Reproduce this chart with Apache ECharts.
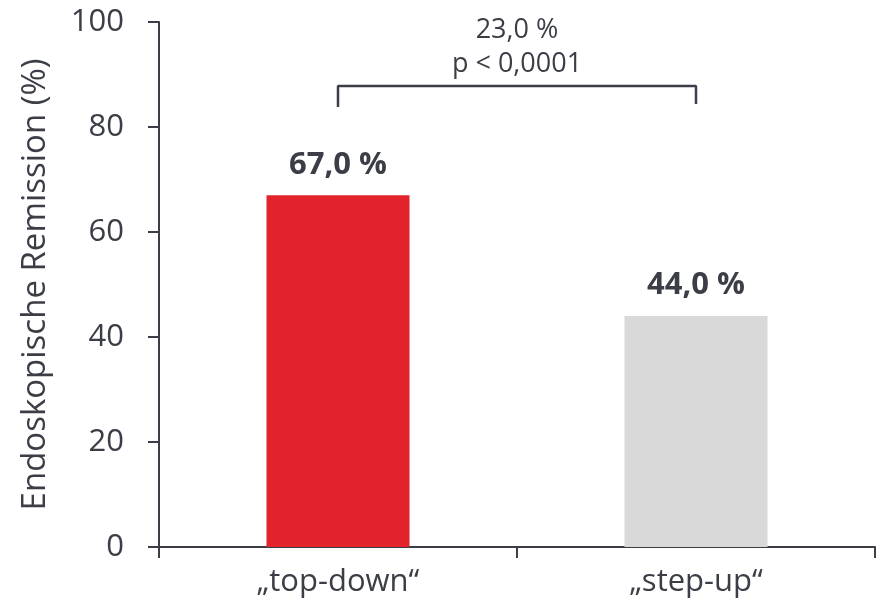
<!DOCTYPE html>
<html><head><meta charset="utf-8">
<script src="https://cdn.jsdelivr.net/npm/echarts@6/dist/echarts.min.js"></script>
<style>html,body{margin:0;padding:0;background:#fff}#c{width:879px;height:603px}</style>
</head><body><div id="c"></div>
<script>
const categories = ['„top-down“', '„step-up“'];
const values = [67.0, 44.0];
const barLabels = ['67,0 %', '44,0 %'];
const barColors = ['#E2232B', '#D9D9D9'];
const yTicks = [0, 20, 40, 60, 80, 100];
const bracket = [[0, 83.8], [0, 87.8], [1, 87.8], [1, 84.4]];
const diffText = ['23,0 %', 'p < 0,0001'];
const yName = 'Endoskopische Remission (%)';

const ink = '#3B3E47';
const font = '"Open Sans", sans-serif';
const chart = echarts.init(document.getElementById('c'), null, {renderer: 'canvas'});
chart.setOption({
  animation: false,
  grid: {left: 159, right: 4, top: 22, bottom: 56},
  xAxis: {
    type: 'category', data: categories,
    axisLine: {lineStyle: {color: ink, width: 2}},
    axisTick: {show: true, length: 11, lineStyle: {color: ink, width: 2}},
    axisLabel: {color: ink, fontSize: 31, fontFamily: font, margin: 20}
  },
  yAxis: {
    type: 'value', min: yTicks[0], max: yTicks[yTicks.length - 1], interval: 20,
    name: yName, nameLocation: 'middle', nameGap: 107,
    nameTextStyle: {color: ink, fontSize: 33, fontFamily: font},
    axisLine: {show: true, lineStyle: {color: ink, width: 2}},
    axisTick: {show: true, length: 11, lineStyle: {color: ink, width: 2}},
    splitLine: {show: false},
    axisLabel: {color: ink, fontSize: 31, fontFamily: font, margin: 35}
  },
  series: [
    {
      type: 'bar', barWidth: 143,
      data: values.map((v, i) => ({value: v, itemStyle: {color: barColors[i]},
        label: {show: true, position: 'top', formatter: barLabels[i], distance: 15,
          color: ink, fontSize: 31, fontWeight: 'bold', fontFamily: font}}))
    },
    {
      type: 'line', data: bracket, symbol: 'none', silent: true,
      lineStyle: {color: ink, width: 2.5}
    }
  ],
  graphic: [{
    type: 'text', left: 517 - 90, top: 13,
    style: {text: diffText.join('\n'), x: 0, fill: ink, fontSize: 27, fontFamily: font,
      lineHeight: 34, textAlign: 'center', width: 180}
  }]
});
</script></body></html>
